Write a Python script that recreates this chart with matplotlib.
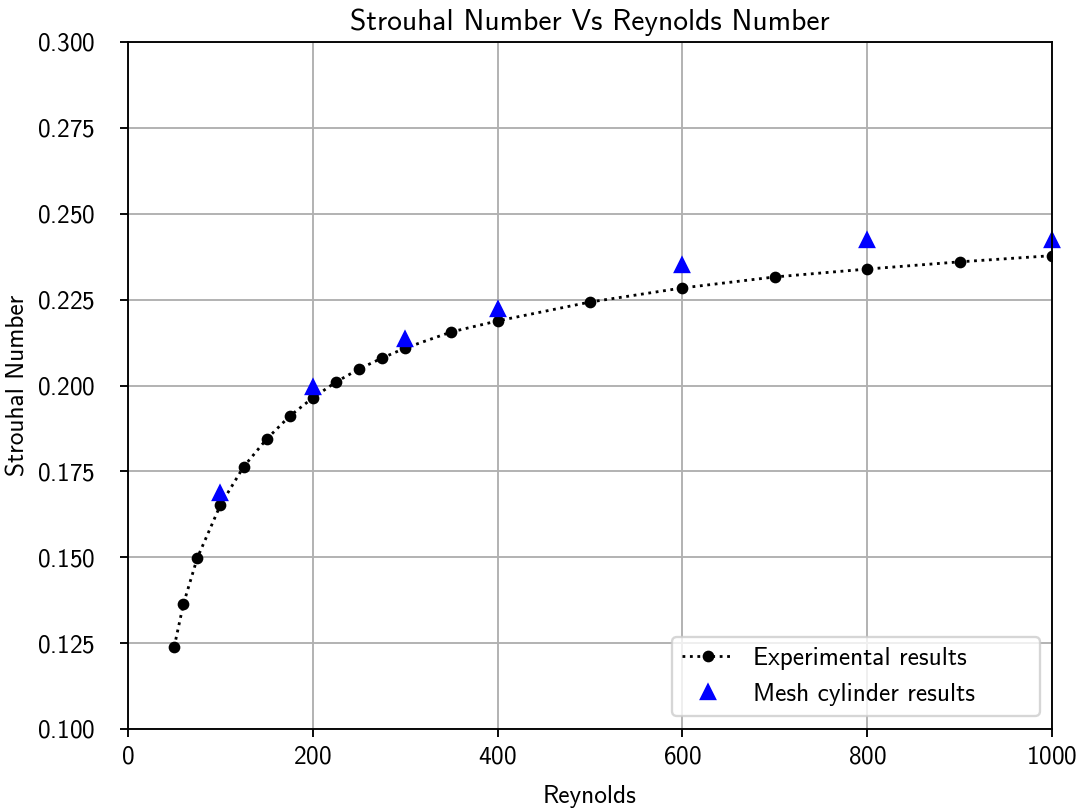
import matplotlib
matplotlib.use("Agg")
import matplotlib.pyplot as plt

plt.rcParams['font.family'] = ['cmss10', 'DejaVu Sans']
plt.rcParams['axes.formatter.use_mathtext'] = True
plt.rcParams['font.size'] = 10.8

# experimental Strouhal-Reynolds curve
re_exp = [50, 60, 75, 100, 125, 150, 175, 200, 225, 250, 275, 300,
          350, 400, 500, 600, 700, 800, 900, 1000]
st_exp = [0.1239, 0.1364, 0.1498, 0.1652, 0.1763, 0.1844, 0.1911, 0.1964,
          0.2010, 0.2048, 0.2080, 0.2109, 0.2156, 0.2188, 0.2243, 0.2284,
          0.2316, 0.2339, 0.2360, 0.2378]

# simulated mesh cylinder
re_mesh = [100, 200, 300, 400, 600, 800, 1000]
st_mesh = [0.1687, 0.1996, 0.2135, 0.2223, 0.2351, 0.2424, 0.2424]

dpi = 168.5
fig, ax = plt.subplots(figsize=(1078 / dpi, 811 / dpi), dpi=dpi)
fig.subplots_adjust(left=128 / 1078, right=1052 / 1078,
                    bottom=1 - 729 / 811, top=1 - 42 / 811)

ax.plot(re_exp, st_exp, 'k:', marker='o', markersize=4, linewidth=1.2,
        label='Experimental results')
ax.plot(re_mesh, st_mesh, 'b^', markersize=6, linestyle='None',
        label='Mesh cylinder results', clip_on=False)

ax.set_xlim(0, 1000)
ax.set_ylim(0.1, 0.3)
ax.set_title('Strouhal Number Vs Reynolds Number', fontsize=12.6, pad=5)
ax.set_xlabel('Reynolds', labelpad=7)
ax.set_ylabel('Strouhal Number', labelpad=3)
ax.tick_params(axis='y', pad=10.5)
ax.grid(True)
ax.legend(loc='lower left', bbox_to_anchor=(0.589, 0.019, 0.398, 0.12),
          mode='expand', borderaxespad=0)

fig.savefig('out.png', dpi=dpi)
